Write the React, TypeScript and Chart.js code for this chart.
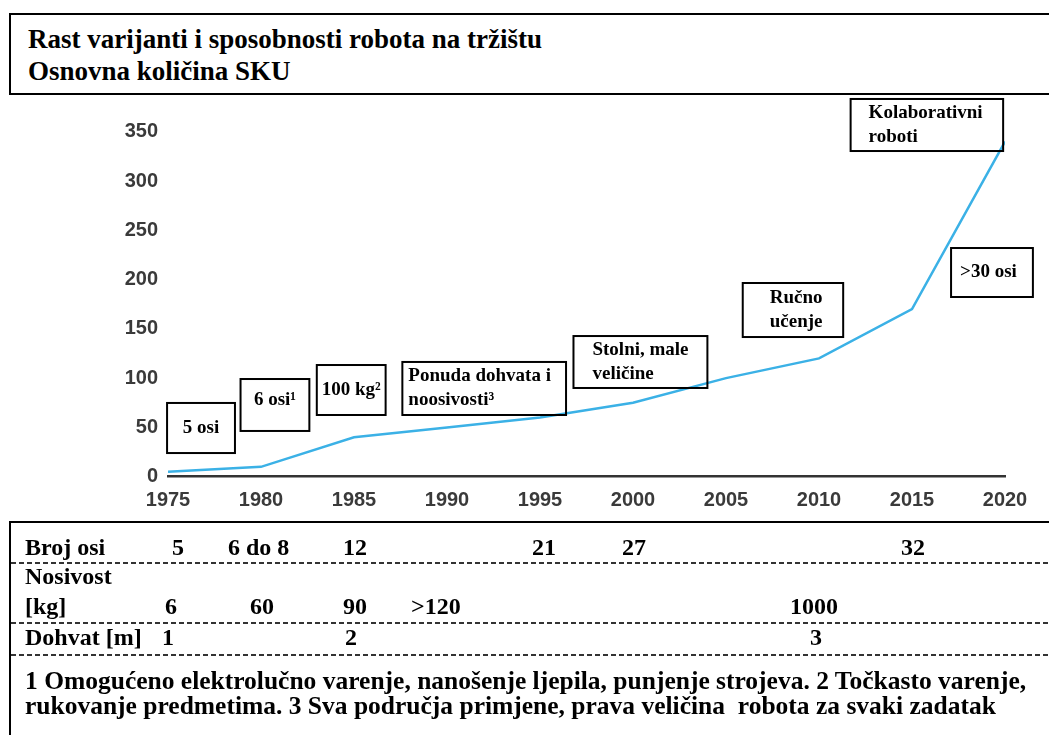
import React, { useEffect, useRef } from "react";
import { Chart, registerables } from "chart.js";

Chart.register(...registerables);

// ---------- data ----------
const years = [1975, 1980, 1985, 1990, 1995, 2000, 2005, 2010, 2015, 2020];
const skuCounts = [5, 10, 40, 50, 60, 75, 100, 120, 170, 340];
const xTickLabels = ["1975", "1980", "1985", "1990", "1995", "2000", "2005", "2010", "2015", "2020"];
const yTickValues = [0, 50, 100, 150, 200, 250, 300, 350];

const titleLines = ["Rast varijanti i sposobnosti robota na tržištu", "Osnovna količina SKU"];

const annotationTexts = [
  ["5 osi"],
  ["6 osi¹"],
  ["100 kg²"],
  ["Ponuda dohvata i", "noosivosti³"],
  ["Stolni, male", "veličine"],
  ["Ručno", "učenje"],
  ["Kolaborativni", "roboti"],
  [">30 osi"],
];

const rowAxesLabel = "Broj osi";
const rowAxesValues = ["5", "6 do 8", "12", "21", "27", "32"];
const rowPayloadLabel = ["Nosivost", "[kg]"];
const rowPayloadValues = ["6", "60", "90", ">120", "1000"];
const rowReachLabel = "Dohvat [m]";
const rowReachValues = ["1", "2", "3"];
const footnoteLines = [
  "1 Omogućeno elektrolučno varenje, nanošenje ljepila, punjenje strojeva. 2 Točkasto varenje,",
  "rukovanje predmetima. 3 Sva područja primjene, prava veličina  robota za svaki zadatak",
];

// ---------- layout (positions / styles) ----------
// annotation boxes anchored in data units (like chartjs-plugin-annotation)
const annotationAnchors = [
  { xMin: 1974.95, xMax: 1978.6, yMin: 24, yMax: 74.8, align: "center", padX: 0, dy: 0 },
  { xMin: 1978.9, xMax: 1982.6, yMin: 46.4, yMax: 99.1, align: "center", padX: 0, dy: -5 },
  { xMin: 1983.0, xMax: 1986.7, yMin: 62.6, yMax: 113.3, align: "center", padX: 0, dy: 0 },
  { xMin: 1987.6, xMax: 1996.4, yMin: 62.6, yMax: 116.4, align: "left", padX: 6, dy: 0 },
  { xMin: 1996.8, xMax: 2004.0, yMin: 90, yMax: 142.7, align: "left", padX: 19, dy: 0 },
  { xMin: 2005.9, xMax: 2011.3, yMin: 141.7, yMax: 196.5, align: "left", padX: 27, dy: 0 },
  { xMin: 2011.7, xMax: 2019.9, yMin: 330.4, yMax: 383.2, align: "left", padX: 18, dy: 0 },
  { xMin: 2017.1, xMax: 2021.5, yMin: 182.3, yMax: 232, align: "left", padX: 9, dy: 0 },
];
const axesValueX = [172, 228, 343, 532, 622, 901];
const payloadValueX = [165, 250, 343, 411, 790];
const reachValueX = [162, 345, 810];

const SERIF = "'Liberation Serif', 'Times New Roman', serif";
const SANS = "'Liberation Sans', Arial, sans-serif";
const W = 1049;
const H = 735;

const annotationPlugin = {
  id: "boxAnnotations",
  afterDatasetsDraw(chart: any) {
    const { ctx, scales } = chart;
    const xs = scales.x;
    const ys = scales.y;
    ctx.save();
    annotationAnchors.forEach((a, i) => {
      const left = xs.getPixelForValue(a.xMin);
      const right = xs.getPixelForValue(a.xMax);
      const top = ys.getPixelForValue(a.yMax);
      const bottom = ys.getPixelForValue(a.yMin);
      ctx.lineWidth = 2;
      ctx.strokeStyle = "#000";
      ctx.strokeRect(left, top, right - left, bottom - top);
      const lines = annotationTexts[i];
      const lh = 24;
      const cy = (top + bottom) / 2 + a.dy;
      ctx.fillStyle = "#000";
      ctx.font = `bold 19px ${SERIF}`;
      ctx.textBaseline = "middle";
      ctx.textAlign = a.align === "center" ? "center" : "left";
      const tx = a.align === "center" ? (left + right) / 2 : left + a.padX;
      lines.forEach((ln, j) => {
        const y = cy + (j - (lines.length - 1) / 2) * lh;
        ctx.fillText(ln, tx, y);
      });
    });
    ctx.restore();
  },
};

function Txt({ x, baseline, size, children }: { x: number; baseline: number; size: number; children: any }) {
  return (
    <span
      style={{
        position: "absolute",
        left: x,
        top: baseline - 0.8375 * size,
        fontFamily: SERIF,
        fontWeight: "bold",
        fontSize: size,
        lineHeight: 1,
        whiteSpace: "pre",
        color: "#000",
      }}
    >
      {children}
    </span>
  );
}

function Dashed({ y }: { y: number }) {
  return (
    <div
      style={{
        position: "absolute",
        left: 11,
        top: y,
        width: W,
        height: 2,
        background: "repeating-linear-gradient(to right, #333 0 5px, transparent 5px 8px)",
      }}
    />
  );
}

export default function App() {
  const canvasRef = useRef<HTMLCanvasElement | null>(null);

  useEffect(() => {
    const canvas = canvasRef.current;
    if (!canvas) return;
    const chart = new Chart(canvas, {
      type: "line",
      data: {
        datasets: [
          {
            data: years.map((yr, i) => ({ x: yr, y: skuCounts[i] })),
            borderColor: "#3BB1E6",
            borderWidth: 2.5,
            pointRadius: 0,
            tension: 0,
            fill: false,
          },
        ],
      },
      options: {
        animation: false,
        responsive: false,
        devicePixelRatio: 1,
        layout: { padding: { top: 131.7, right: 44, bottom: 218.3, left: 0 } },
        plugins: { legend: { display: false }, tooltip: { enabled: false }, title: { display: false } },
        scales: {
          x: {
            type: "linear",
            min: 1975,
            max: 2020,
            afterBuildTicks: (scale: any) => {
              scale.ticks = years.map((v) => ({ value: v }));
            },
            afterFit: (scale: any) => {
              scale.height = 40;
            },
            ticks: {
              autoSkip: false,
              maxRotation: 0,
              padding: 12,
              color: "#3a3a3a",
              font: { family: SANS, size: 20, weight: "bold" },
              callback: (v: any) => xTickLabels[years.indexOf(Number(v))] ?? String(v),
            },
            grid: { display: false, drawTicks: false },
            border: { display: true, color: "#333", width: 2.5 },
          },
          y: {
            min: 0,
            max: 350,
            afterBuildTicks: (scale: any) => {
              scale.ticks = yTickValues.map((v) => ({ value: v }));
            },
            afterFit: (scale: any) => {
              scale.width = 168;
            },
            ticks: {
              padding: 10,
              color: "#3a3a3a",
              font: { family: SANS, size: 20, weight: "bold" },
              callback: (v: any) => String(v),
            },
            grid: { display: false, drawTicks: false },
            border: { display: false },
          },
        },
      } as any,
      plugins: [annotationPlugin],
    });
    return () => chart.destroy();
  }, []);

  return (
    <div style={{ position: "fixed", left: 0, top: 0, width: W, height: H, background: "#fff", overflow: "hidden" }}>
      {/* title box */}
      <div
        style={{
          position: "absolute",
          left: 9,
          top: 13,
          width: W + 20,
          height: 82,
          border: "2.5px solid #000",
          boxSizing: "border-box",
        }}
      />
      <Txt x={28} baseline={48.5} size={27}>{titleLines[0]}</Txt>
      <Txt x={28} baseline={80.5} size={27}>{titleLines[1]}</Txt>

      <canvas ref={canvasRef} width={W} height={H} style={{ position: "absolute", left: 0, top: 0, width: W, height: H }} />

      {/* table */}
      <div
        style={{
          position: "absolute",
          left: 9,
          top: 521,
          width: W + 20,
          height: 300,
          borderTop: "2.5px solid #000",
          borderLeft: "2.5px solid #000",
          boxSizing: "border-box",
        }}
      />
      <Txt x={25} baseline={555} size={24}>{rowAxesLabel}</Txt>
      {rowAxesValues.map((v, i) => (
        <Txt key={"a" + i} x={axesValueX[i]} baseline={555} size={24}>{v}</Txt>
      ))}
      <Dashed y={562} />
      <Txt x={25} baseline={584} size={24}>{rowPayloadLabel[0]}</Txt>
      <Txt x={25} baseline={614} size={24}>{rowPayloadLabel[1]}</Txt>
      {rowPayloadValues.map((v, i) => (
        <Txt key={"p" + i} x={payloadValueX[i]} baseline={614} size={24}>{v}</Txt>
      ))}
      <Dashed y={622} />
      <Txt x={25} baseline={645.5} size={24}>{rowReachLabel}</Txt>
      {rowReachValues.map((v, i) => (
        <Txt key={"r" + i} x={reachValueX[i]} baseline={645.5} size={24}>{v}</Txt>
      ))}
      <Dashed y={654} />
      <Txt x={25} baseline={689} size={25.5}>{footnoteLines[0]}</Txt>
      <Txt x={25} baseline={714.5} size={25.5}>{footnoteLines[1]}</Txt>
    </div>
  );
}
